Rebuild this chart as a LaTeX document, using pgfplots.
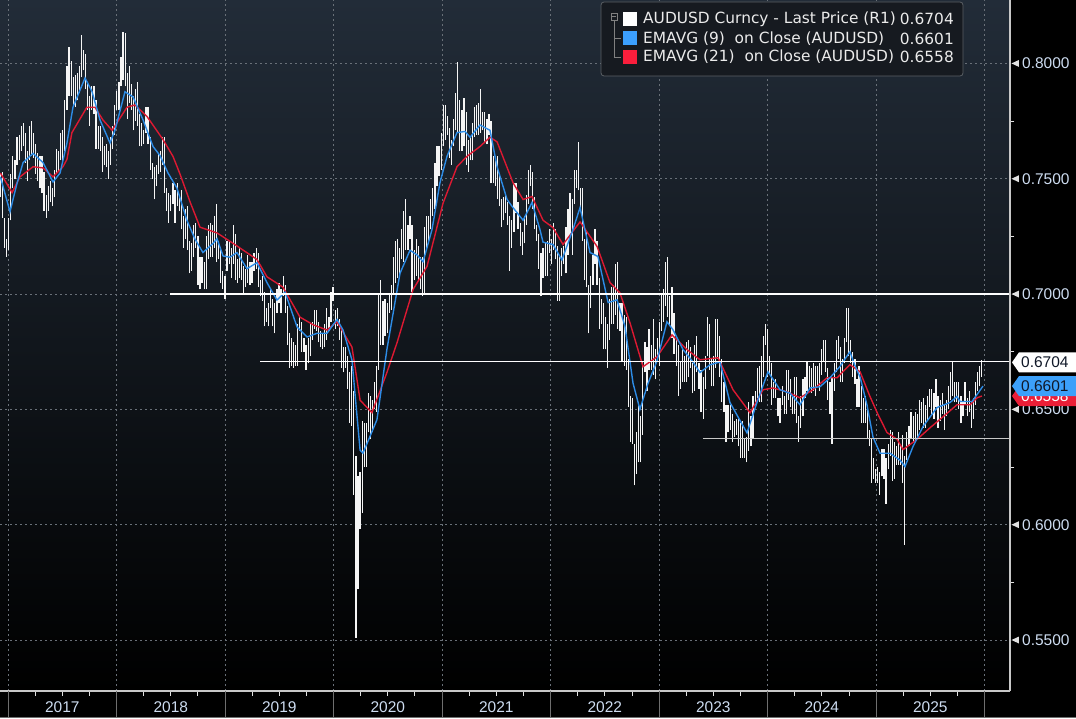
\documentclass[border=0pt]{standalone}
\usepackage{pgfplots}
\usepackage{pgfplotstable}
\pgfplotsset{compat=1.18}
\usepackage{fontspec}
\setmainfont{Liberation Sans}
\newfontfamily\legfont{DejaVu Sans}
\newcommand\ticklab{\fontsize{15.5}{18}\selectfont}
\newcommand\legsize{\legfont\fontsize{15.4}{18}\selectfont}

\definecolor{bgtop}{RGB}{34,44,56}
\definecolor{gridcol}{RGB}{105,112,120}
\definecolor{barwhite}{RGB}{245,245,245}
\definecolor{emablue}{RGB}{45,140,230}
\definecolor{emared}{RGB}{220,25,50}
\definecolor{legblue}{RGB}{60,160,255}
\definecolor{legred}{RGB}{250,30,60}
\definecolor{legbg}{RGB}{22,26,32}
\definecolor{legborder}{RGB}{90,95,100}
\definecolor{ticktext}{RGB}{205,220,240}
\definecolor{tickwhite}{RGB}{225,225,225}
\definecolor{axiscol}{RGB}{200,200,200}
\definecolor{sepcol}{RGB}{110,110,110}
\definecolor{flagblue}{RGB}{60,160,250}
\definecolor{flagred}{RGB}{235,30,55}
\definecolor{flagtext}{RGB}{16,24,40}
\definecolor{anngray}{RGB}{200,200,200}

% weekly AUDUSD bars, week 0 = first week of Dec 2016
\pgfplotstableread{
w lo hi
0 0.7420 0.7520
1 0.7330 0.7530
2 0.7200 0.7330
3 0.7160 0.7240
4 0.7190 0.7330
5 0.7320 0.7520
6 0.7460 0.7600
7 0.7500 0.7580
8 0.7560 0.7680
9 0.7580 0.7690
10 0.7620 0.7730
11 0.7640 0.7740
12 0.7570 0.7700
13 0.7490 0.7620
14 0.7580 0.7730
15 0.7600 0.7750
16 0.7590 0.7700
17 0.7520 0.7650
18 0.7490 0.7610
19 0.7460 0.7600
20 0.7440 0.7600
21 0.7360 0.7530
22 0.7330 0.7430
23 0.7360 0.7470
24 0.7400 0.7490
25 0.7380 0.7460
26 0.7420 0.7540
27 0.7520 0.7630
28 0.7530 0.7620
29 0.7580 0.7700
30 0.7570 0.7710
31 0.7620 0.7840
32 0.7800 0.7990
33 0.7860 0.8070
34 0.7860 0.8010
35 0.7810 0.7940
36 0.7810 0.7950
37 0.7840 0.7960
38 0.7870 0.7990
39 0.7940 0.8125
40 0.7970 0.8060
41 0.7890 0.8040
42 0.7800 0.7920
43 0.7730 0.7860
44 0.7800 0.7900
45 0.7780 0.7900
46 0.7630 0.7840
47 0.7630 0.7730
48 0.7620 0.7730
49 0.7530 0.7680
50 0.7560 0.7640
51 0.7550 0.7650
52 0.7500 0.7620
53 0.7560 0.7680
54 0.7630 0.7730
55 0.7690 0.7820
56 0.7800 0.7880
57 0.7800 0.7920
58 0.7900 0.8030
59 0.7930 0.8136
60 0.7900 0.8130
61 0.7760 0.7960
62 0.7830 0.7990
63 0.7800 0.7910
64 0.7710 0.7860
65 0.7750 0.7890
66 0.7730 0.7920
67 0.7640 0.7780
68 0.7640 0.7740
69 0.7650 0.7710
70 0.7700 0.7810
71 0.7650 0.7810
72 0.7540 0.7680
73 0.7500 0.7570
74 0.7410 0.7550
75 0.7470 0.7560
76 0.7520 0.7610
77 0.7530 0.7620
78 0.7560 0.7680
79 0.7440 0.7680
80 0.7360 0.7460
81 0.7310 0.7440
82 0.7360 0.7430
83 0.7390 0.7480
84 0.7310 0.7450
85 0.7380 0.7480
86 0.7360 0.7430
87 0.7280 0.7450
88 0.7200 0.7340
89 0.7240 0.7370
90 0.7190 0.7380
91 0.7090 0.7230
92 0.7100 0.7220
93 0.7160 0.7300
94 0.7200 0.7310
95 0.7040 0.7250
96 0.7020 0.7160
97 0.7050 0.7160
98 0.7020 0.7140
99 0.7020 0.7250
100 0.7150 0.7300
101 0.7160 0.7310
102 0.7160 0.7300
103 0.7200 0.7340
104 0.7140 0.7390
105 0.7150 0.7230
106 0.7050 0.7200
107 0.7020 0.7100
108 0.6980 0.7080
109 0.7100 0.7230
110 0.7130 0.7230
111 0.7070 0.7200
112 0.7130 0.7300
113 0.7060 0.7260
114 0.7050 0.7150
115 0.7070 0.7200
116 0.7060 0.7180
117 0.7000 0.7120
118 0.7030 0.7110
119 0.7050 0.7170
120 0.7040 0.7140
121 0.7050 0.7140
122 0.7100 0.7180
123 0.7110 0.7200
124 0.7030 0.7180
125 0.6990 0.7060
126 0.6970 0.7080
127 0.6860 0.7010
128 0.6880 0.6940
129 0.6860 0.6960
130 0.6940 0.7020
131 0.6860 0.6980
132 0.6830 0.6960
133 0.6920 0.7020
134 0.6960 0.7050
135 0.6920 0.7020
136 0.6990 0.7080
137 0.6920 0.7040
138 0.6780 0.6950
139 0.6680 0.6830
140 0.6690 0.6810
141 0.6680 0.6790
142 0.6690 0.6780
143 0.6690 0.6870
144 0.6840 0.6900
145 0.6750 0.6880
146 0.6750 0.6810
147 0.6670 0.6780
148 0.6700 0.6810
149 0.6730 0.6870
150 0.6800 0.6880
151 0.6850 0.6930
152 0.6840 0.6930
153 0.6790 0.6880
154 0.6770 0.6840
155 0.6760 0.6830
156 0.6770 0.6870
157 0.6800 0.6940
158 0.6840 0.6900
159 0.6880 0.7010
160 0.6970 0.7030
161 0.6850 0.6930
162 0.6860 0.6940
163 0.6800 0.6890
164 0.6680 0.6850
165 0.6660 0.6770
166 0.6680 0.6770
167 0.6590 0.6730
168 0.6440 0.6660
169 0.6430 0.6690
170 0.6130 0.6580
171 0.5510 0.6300
172 0.5720 0.6210
173 0.5980 0.6230
174 0.6050 0.6450
175 0.6250 0.6440
176 0.6250 0.6440
177 0.6400 0.6570
178 0.6370 0.6560
179 0.6400 0.6540
180 0.6500 0.6620
181 0.6490 0.6690
182 0.6670 0.7000
183 0.6780 0.7060
184 0.6780 0.6970
185 0.6820 0.6980
186 0.6830 0.6960
187 0.6920 0.7000
188 0.6930 0.7040
189 0.7000 0.7160
190 0.7050 0.7230
191 0.7070 0.7240
192 0.7080 0.7200
193 0.7150 0.7280
194 0.7140 0.7360
195 0.7190 0.7410
196 0.7190 0.7300
197 0.7240 0.7340
198 0.7010 0.7300
199 0.7060 0.7190
200 0.7080 0.7240
201 0.7060 0.7210
202 0.7020 0.7160
203 0.6990 0.7160
204 0.7000 0.7290
205 0.7190 0.7340
206 0.7230 0.7340
207 0.7280 0.7410
208 0.7340 0.7460
209 0.7370 0.7570
210 0.7470 0.7640
211 0.7510 0.7640
212 0.7540 0.7700
213 0.7640 0.7820
214 0.7670 0.7820
215 0.7690 0.7770
216 0.7590 0.7720
217 0.7560 0.7670
218 0.7640 0.7760
219 0.7710 0.7870
220 0.7700 0.8007
221 0.7620 0.7840
222 0.7620 0.7800
223 0.7640 0.7850
224 0.7560 0.7790
225 0.7530 0.7670
226 0.7580 0.7680
227 0.7580 0.7740
228 0.7680 0.7810
229 0.7690 0.7820
230 0.7690 0.7830
231 0.7700 0.7890
232 0.7710 0.7790
233 0.7660 0.7790
234 0.7650 0.7760
235 0.7690 0.7780
236 0.7480 0.7750
237 0.7480 0.7600
238 0.7470 0.7600
239 0.7410 0.7600
240 0.7380 0.7510
241 0.7290 0.7410
242 0.7320 0.7420
243 0.7350 0.7430
244 0.7300 0.7400
245 0.7100 0.7340
246 0.7200 0.7320
247 0.7270 0.7480
248 0.7350 0.7480
249 0.7280 0.7400
250 0.7210 0.7310
251 0.7170 0.7270
252 0.7220 0.7340
253 0.7300 0.7430
254 0.7390 0.7540
255 0.7470 0.7560
256 0.7370 0.7530
257 0.7280 0.7420
258 0.7230 0.7300
259 0.7110 0.7260
260 0.6990 0.7180
261 0.7070 0.7200
262 0.7080 0.7220
263 0.7080 0.7230
264 0.7180 0.7280
265 0.7130 0.7240
266 0.7190 0.7310
267 0.7150 0.7280
268 0.6970 0.7210
269 0.6970 0.7160
270 0.7080 0.7200
271 0.7130 0.7210
272 0.7090 0.7290
273 0.7170 0.7370
274 0.7250 0.7440
275 0.7170 0.7410
276 0.7390 0.7540
277 0.7460 0.7540
278 0.7450 0.7660
279 0.7360 0.7460
280 0.7230 0.7460
281 0.7060 0.7240
282 0.7030 0.7270
283 0.6830 0.7040
284 0.6940 0.7080
285 0.7040 0.7170
286 0.7130 0.7280
287 0.7040 0.7230
288 0.6850 0.7070
289 0.6870 0.6980
290 0.6760 0.6960
291 0.6760 0.6900
292 0.6680 0.6870
293 0.6800 0.6980
294 0.6870 0.7030
295 0.6870 0.7040
296 0.6910 0.7130
297 0.6850 0.7140
298 0.6840 0.6960
299 0.6710 0.6960
300 0.6690 0.6910
301 0.6670 0.6900
302 0.6510 0.6720
303 0.6360 0.6560
304 0.6350 0.6550
305 0.6170 0.6350
306 0.6220 0.6400
307 0.6270 0.6520
308 0.6270 0.6470
309 0.6390 0.6710
310 0.6660 0.6790
311 0.6580 0.6770
312 0.6670 0.6850
313 0.6670 0.6780
314 0.6650 0.6890
315 0.6630 0.6760
316 0.6710 0.6810
317 0.6690 0.6880
318 0.6840 0.7000
319 0.6880 0.7020
320 0.6950 0.7140
321 0.6900 0.7160
322 0.6860 0.6990
323 0.6810 0.7030
324 0.6740 0.6920
325 0.6690 0.6800
326 0.6560 0.6780
327 0.6590 0.6710
328 0.6620 0.6760
329 0.6620 0.6730
330 0.6620 0.6790
331 0.6640 0.6800
332 0.6680 0.6770
333 0.6570 0.6700
334 0.6580 0.6780
335 0.6660 0.6820
336 0.6590 0.6700
337 0.6490 0.6670
338 0.6460 0.6640
339 0.6590 0.6730
340 0.6730 0.6900
341 0.6670 0.6870
342 0.6600 0.6720
343 0.6600 0.6730
344 0.6680 0.6890
345 0.6720 0.6890
346 0.6640 0.6820
347 0.6530 0.6720
348 0.6490 0.6620
349 0.6360 0.6520
350 0.6400 0.6520
351 0.6410 0.6520
352 0.6360 0.6480
353 0.6380 0.6450
354 0.6390 0.6460
355 0.6340 0.6460
356 0.6290 0.6440
357 0.6290 0.6450
358 0.6290 0.6370
359 0.6270 0.6380
360 0.6320 0.6530
361 0.6340 0.6470
362 0.6370 0.6560
363 0.6520 0.6580
364 0.6550 0.6680
365 0.6530 0.6690
366 0.6530 0.6730
367 0.6640 0.6820
368 0.6780 0.6870
369 0.6640 0.6850
370 0.6650 0.6730
371 0.6520 0.6700
372 0.6550 0.6620
373 0.6550 0.6630
374 0.6470 0.6550
375 0.6440 0.6550
376 0.6520 0.6600
377 0.6480 0.6560
378 0.6480 0.6670
379 0.6540 0.6670
380 0.6510 0.6630
381 0.6480 0.6560
382 0.6480 0.6640
383 0.6440 0.6640
384 0.6360 0.6470
385 0.6420 0.6560
386 0.6470 0.6630
387 0.6550 0.6640
388 0.6580 0.6710
389 0.6590 0.6690
390 0.6570 0.6680
391 0.6580 0.6700
392 0.6560 0.6690
393 0.6600 0.6690
394 0.6580 0.6700
395 0.6650 0.6760
396 0.6710 0.6800
397 0.6660 0.6800
398 0.6540 0.6680
399 0.6480 0.6620
400 0.6350 0.6640
401 0.6580 0.6700
402 0.6660 0.6800
403 0.6720 0.6820
404 0.6620 0.6770
405 0.6620 0.6720
406 0.6700 0.6810
407 0.6790 0.6940
408 0.6730 0.6940
409 0.6700 0.6800
410 0.6640 0.6750
411 0.6610 0.6720
412 0.6510 0.6630
413 0.6510 0.6690
414 0.6440 0.6600
415 0.6440 0.6550
416 0.6440 0.6560
417 0.6370 0.6510
418 0.6340 0.6410
419 0.6180 0.6370
420 0.6200 0.6290
421 0.6180 0.6240
422 0.6180 0.6250
423 0.6130 0.6230
424 0.6210 0.6330
425 0.6200 0.6330
426 0.6090 0.6290
427 0.6240 0.6350
428 0.6300 0.6410
429 0.6190 0.6400
430 0.6200 0.6360
431 0.6260 0.6340
432 0.6260 0.6400
433 0.6260 0.6340
434 0.6180 0.6390
435 0.5914 0.6300
436 0.6280 0.6400
437 0.6340 0.6430
438 0.6370 0.6490
439 0.6360 0.6470
440 0.6360 0.6490
441 0.6380 0.6480
442 0.6410 0.6540
443 0.6440 0.6530
444 0.6420 0.6550
445 0.6420 0.6520
446 0.6450 0.6560
447 0.6510 0.6590
448 0.6480 0.6590
449 0.6460 0.6570
450 0.6510 0.6630
451 0.6420 0.6560
452 0.6450 0.6540
453 0.6480 0.6570
454 0.6410 0.6520
455 0.6470 0.6540
456 0.6500 0.6600
457 0.6540 0.6660
458 0.6560 0.6707
459 0.6530 0.6620
460 0.6530 0.6620
461 0.6500 0.6620
462 0.6440 0.6560
463 0.6470 0.6530
464 0.6520 0.6620
465 0.6470 0.6550
466 0.6490 0.6580
467 0.6420 0.6530
468 0.6460 0.6550
469 0.6520 0.6620
470 0.6580 0.6660
471 0.6600 0.6690
472 0.6640 0.6714
}\tabBars

% EMAVG (9) on close
\pgfplotstableread{
w v
0 0.7508
4.6 0.7357
8.0 0.7480
10.9 0.7570
15.7 0.7610
20.5 0.7570
25.3 0.7486
28.7 0.7525
32.0 0.7655
34.9 0.7810
40.7 0.7937
44.1 0.7877
47.9 0.7755
52.7 0.7655
55.1 0.7710
59.9 0.7877
63.8 0.7855
68.6 0.7755
73.4 0.7640
76.8 0.7600
80.6 0.7525
84.9 0.7460
89.7 0.7320
93.5 0.7240
97.4 0.7180
102.3 0.7220
104.2 0.7240
107.1 0.7165
110.4 0.7160
113.8 0.7180
118.6 0.7110
123.4 0.7136
128.2 0.7050
133.0 0.6974
136.9 0.7008
142.7 0.6857
147.5 0.6814
152.3 0.6830
157.1 0.6830
161.9 0.6890
164.8 0.6844
169.1 0.6714
173.0 0.6323
174.4 0.6310
181.1 0.6455
185.9 0.6760
192.2 0.7090
197.0 0.7190
200.4 0.7170
203.3 0.7140
207.6 0.7280
211.4 0.7482
214.8 0.7597
219.6 0.7700
223.5 0.7705
225.9 0.7680
230.7 0.7733
235.5 0.7710
238.9 0.7552
243.7 0.7410
246.1 0.7380
251.4 0.7320
255.7 0.7397
259.5 0.7280
261.0 0.7225
265.8 0.7215
270.1 0.7148
275.4 0.7280
278.8 0.7375
283.6 0.7180
287.4 0.7163
292.3 0.6963
296.6 0.6975
300.4 0.6860
304.3 0.6613
307.6 0.6500
311.5 0.6613
315.8 0.6710
320.6 0.6880
323.5 0.6845
328.3 0.6760
333.1 0.6706
336.5 0.6660
341.3 0.6693
346.1 0.6706
350.9 0.6530
359.1 0.6398
363.9 0.6530
369.2 0.6663
375.0 0.6585
379.8 0.6570
384.6 0.6520
389.4 0.6593
394.2 0.6598
399.0 0.6637
403.8 0.6686
408.6 0.6750
411.0 0.6690
413.5 0.6640
416.8 0.6520
419.7 0.6380
423.1 0.6310
427.9 0.6310
432.7 0.6280
435.1 0.6252
438.9 0.6338
443.8 0.6426
450.5 0.6508
456.8 0.6530
460.1 0.6556
461.6 0.6534
467.3 0.6534
470.2 0.6570
472.6 0.6601
}\tabEmaNine

% EMAVG (21) on close
\pgfplotstableread{
w v
0 0.7525
5.6 0.7440
9.4 0.7508
15.7 0.7552
20.5 0.7547
25.3 0.7508
30.1 0.7552
32.0 0.7584
34.4 0.7700
41.6 0.7810
45.5 0.7810
49.3 0.7755
53.7 0.7710
60.9 0.7810
64.7 0.7820
70.5 0.7770
78.2 0.7670
83.0 0.7597
86.4 0.7520
91.2 0.7400
96.0 0.7290
104.2 0.7265
111.9 0.7220
123.4 0.7150
128.2 0.7075
135.9 0.7030
144.1 0.6900
150.4 0.6867
157.1 0.6844
161.9 0.6880
169.1 0.6770
173.0 0.6540
178.7 0.6486
185.9 0.6660
190.8 0.6790
198.5 0.7020
205.2 0.7120
212.9 0.7394
219.6 0.7552
224.4 0.7597
230.7 0.7640
235.5 0.7680
238.9 0.7660
246.6 0.7482
251.4 0.7410
255.7 0.7423
261.0 0.7320
265.8 0.7288
270.6 0.7215
278.8 0.7313
287.0 0.7206
293.2 0.7050
298.0 0.7005
302.8 0.6876
309.1 0.6685
315.8 0.6728
323.0 0.6823
330.2 0.6760
336.5 0.6715
345.2 0.6724
352.4 0.6585
360.6 0.6485
366.8 0.6585
371.6 0.6593
378.4 0.6576
384.6 0.6550
390.8 0.6585
397.6 0.6637
402.4 0.6637
408.6 0.6694
413.5 0.6663
418.3 0.6555
422.0 0.6480
426.4 0.6400
431.3 0.6370
434.2 0.6326
440.9 0.6370
447.1 0.6420
453.4 0.6468
460.1 0.6520
466.4 0.6520
469.7 0.6550
472.1 0.6558
}\tabEmaTwentyOne

\begin{document}
\begin{tikzpicture}
\useasboundingbox (0pt,0pt) rectangle (1076pt,718pt);
\fill[black] (0pt,0pt) rectangle (1076pt,718pt);

\begin{axis}[
  at={(0pt,27pt)}, anchor=south west,
  scale only axis, width=1010pt, height=691pt,
  xmin=-0.2, xmax=485.6, ymin=0.5279, ymax=0.8275,
  clip=false,
  axis background/.style={top color=bgtop, bottom color=black},
  axis line style={draw=none},
  xtick={3.65,55.84,108.03,160.22,212.41,264.60,316.79,368.98,421.17,473.36},
  xticklabels={},
  minor x tick num=3,
  xtick pos=bottom,
  ytick={0.55,0.60,0.65,0.70,0.75,0.80},
  minor ytick={0.575,0.625,0.675,0.725,0.775},
  ytick pos=right, yticklabel pos=right,
  tick align=outside,
  major tick length=0pt, minor tick length=4.5pt,
  tick style={draw=tickwhite, line width=0.8pt},
  xmajorgrids, ymajorgrids,
  grid style={draw=gridcol, line width=0.6pt, dash pattern=on 2pt off 3pt},
  yticklabel style={font=\ticklab, text=ticktext, anchor=west, inner sep=0pt, xshift=12pt},
  /pgf/number format/.cd, fixed, fixed zerofill, precision=4, assume math mode=true,
]

% high-low bars
\addplot[draw=none, fill=none, no markers, forget plot,
  error bars/.cd, y dir=plus, y explicit, error mark=none,
  error bar style={draw=barwhite, line width=1.2pt, solid}]
  table[x=w, y=lo, y error expr=\thisrow{hi}-\thisrow{lo}] {\tabBars};

\addplot[emared, line width=1.4pt] table[x=w, y=v] {\tabEmaTwentyOne};
\addplot[emablue, line width=1.4pt] table[x=w, y=v] {\tabEmaNine};

% drawn level lines
\addplot[white, line width=1.2pt] coordinates {(81.6,0.7000) (485.6,0.7000)};
\addplot[white, line width=1.2pt] coordinates {(124.9,0.6706) (485.6,0.6706)};
\addplot[anngray, line width=1.8pt] coordinates {(337.9,0.6374) (485.6,0.6374)};

\draw[axiscol, line width=1.2pt] (rel axis cs:1,0) -- (rel axis cs:1,1);
\draw[axiscol, line width=1.2pt] (rel axis cs:0,0) -- (rel axis cs:1,0);

\pgfplotsinvokeforeach{3.65,55.84,108.03,160.22,212.41,264.60,316.79,368.98,421.17,473.36}{
  \draw[sepcol, line width=0.8pt] (axis cs:#1,0.5279) -- ++(0pt,-27pt);
}
\pgfplotsinvokeforeach{0.55,0.60,0.65,0.70,0.75,0.80}{
  \fill[tickwhite] (axis cs:485.6,#1) ++(1.5pt,0pt) -- ++(7.5pt,3.5pt) -- ++(0pt,-7pt) -- cycle;
}

\tikzset{yearlab/.style={font=\ticklab, text=ticktext, yshift=-16pt}}
\node[yearlab] at (axis cs:29.75,0.5279) {2017};
\node[yearlab] at (axis cs:81.94,0.5279) {2018};
\node[yearlab] at (axis cs:134.13,0.5279) {2019};
\node[yearlab] at (axis cs:186.32,0.5279) {2020};
\node[yearlab] at (axis cs:238.51,0.5279) {2021};
\node[yearlab] at (axis cs:290.70,0.5279) {2022};
\node[yearlab] at (axis cs:342.89,0.5279) {2023};
\node[yearlab] at (axis cs:395.08,0.5279) {2024};
\node[yearlab] at (axis cs:447.27,0.5279) {2025};

\coordinate (fw) at (axis cs:485.6,0.6704);
\coordinate (fb) at (axis cs:485.6,0.6601);
\coordinate (fr) at (axis cs:485.6,0.6558);
\end{axis}

\draw[sepcol, line width=0.8pt] (0pt,0.6pt) -- (1076pt,0.6pt);

% last value flags
\fill[flagred] (fr) ++(2pt,0pt) -- ++(7pt,10pt) -- ++(57pt,0pt) -- ++(0pt,-20pt) -- ++(-57pt,0pt) -- cycle;
\node[anchor=west, inner sep=0pt, text=white, font=\ticklab] at ([xshift=11pt]fr) {0.6558};
\fill[flagblue] (fb) ++(2pt,0pt) -- ++(7pt,10pt) -- ++(57pt,0pt) -- ++(0pt,-20pt) -- ++(-57pt,0pt) -- cycle;
\node[anchor=west, inner sep=0pt, text=flagtext, font=\ticklab] at ([xshift=11pt]fb) {0.6601};
\fill[white] (fw) ++(2pt,0pt) -- ++(7pt,10pt) -- ++(57pt,0pt) -- ++(0pt,-20pt) -- ++(-57pt,0pt) -- cycle;
\node[anchor=west, inner sep=0pt, text=flagtext, font=\ticklab] at ([xshift=11pt]fw) {0.6704};

% legend
\begin{scope}[x=1pt, y=-1pt, yshift=718pt]
  \draw[legborder, fill=legbg, rounded corners=3pt, line width=0.8pt] (601,2) rectangle (963,76);
  \draw[gray, line width=0.7pt] (611,13) rectangle (617,20);
  \draw[gray, line width=0.7pt] (612.3,16.5) -- (615.7,16.5);
  \draw[gray, line width=0.7pt] (614,20) -- (614,57) -- (621,57);
  \draw[gray, line width=0.7pt] (614,38.5) -- (621,38.5);
  \fill[white] (623,12) rectangle (637,26);
  \fill[legblue] (623,31.5) rectangle (637,45.5);
  \fill[legred] (623,50) rectangle (637,64);
  \tikzset{legtxt/.style={inner sep=0pt, text={rgb,255:red,235;green,235;blue,235}, font=\legsize}}
  \node[legtxt, anchor=west] at (643,19) {AUDUSD Curncy - Last Price (R1)};
  \node[legtxt, anchor=west] at (643,38.5) {EMAVG (9)~~on Close (AUDUSD)};
  \node[legtxt, anchor=west] at (643,57) {EMAVG (21)~~on Close (AUDUSD)};
  \node[legtxt, anchor=east] at (954,19) {0.6704};
  \node[legtxt, anchor=east] at (954,38.5) {0.6601};
  \node[legtxt, anchor=east] at (954,57) {0.6558};
\end{scope}
\end{tikzpicture}
\end{document}
